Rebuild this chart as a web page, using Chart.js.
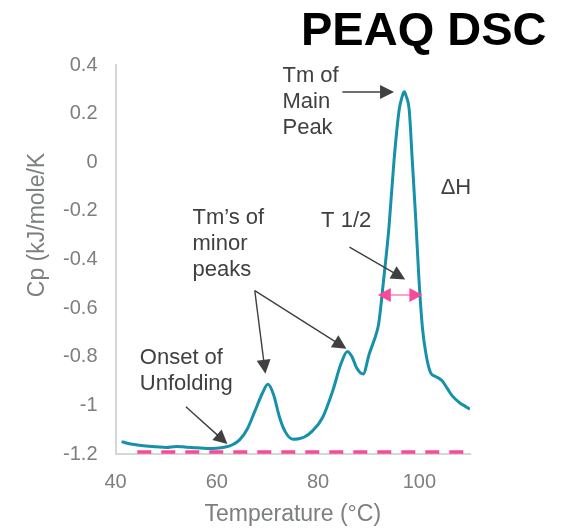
<!DOCTYPE html>
<html>
<head>
<meta charset="utf-8">
<script src="https://cdn.jsdelivr.net/npm/chart.js@4/dist/chart.umd.min.js"></script>
<style>
  html, body { margin: 0; padding: 0; background: #fff; }
  #wrap { width: 575px; height: 528px; }
</style>
</head>
<body>
<div id="wrap"><canvas id="dsc" width="575" height="528"></canvas></div>
<script>
// thermogramme DSC
const temperature = [41.2, 42.5, 44, 46, 48, 50, 52, 54, 56, 58, 60, 61.5, 63, 64.5, 66, 67.5, 69, 70.1, 71.2, 72.4,
  73.5, 75, 76.2, 77.3, 78.9, 80.9, 82.9, 84.5, 85.8, 86.7, 87.6, 88.9, 90.1, 91.7, 92.0, 93.0, 94.0, 95.0, 96.0, 96.6,
  97.0, 97.4, 98.0, 98.6, 99.3, 99.9, 100.6, 101.3, 102.2, 103.3, 104.5, 105.5, 106.5, 108, 109, 110];
const cp = [-1.149, -1.157, -1.162, -1.167, -1.170, -1.173, -1.169, -1.172, -1.174, -1.177, -1.176, -1.172, -1.163, -1.142, -1.098, -1.025, -0.950, -0.913, -0.955, -1.050,
  -1.108, -1.139, -1.137, -1.130, -1.105, -1.050, -0.940, -0.830, -0.778, -0.800, -0.845, -0.871, -0.789, -0.690, -0.660, -0.473, -0.267, 0.008, 0.214, 0.270,
  0.290, 0.272, 0.214, 0.008, -0.239, -0.473, -0.679, -0.788, -0.865, -0.882, -0.899, -0.930, -0.961, -0.990, -1.003, -1.016];

// ligne de base (tirets roses)
const baselineT = [44.3, 109.3];
const baselineCp = [-1.192, -1.192];

// largeur a mi-hauteur (fleche double rose)
const halfWidthT = [91.8, 100.6];
const halfWidthCp = -0.546;

const xTicks = [40, 60, 80, 100];
const yTicks = [0.4, 0.2, 0, -0.2, -0.4, -0.6, -0.8, -1, -1.2];

// textes d'annotation, ancrés en coordonnées de données
const notes = [
  { lines: ['Tm of', 'Main', 'Peak'], x: 72.97, y: 0.331 },
  { lines: ['\u0394H'], x: 104.2, y: -0.132 },
  { lines: ['T 1/2'], x: 80.6, y: -0.268 },
  { lines: ['Tm\u2019s of', 'minor', 'peaks'], x: 55.2, y: -0.256 },
  { lines: ['Onset of', 'Unfolding'], x: 44.8, y: -0.829 }
];
// fleches noires : [de T, de Cp, vers T, vers Cp]
const arrows = [
  [84.8, 0.289, 95.0, 0.289],
  [86.2, -0.349, 97.2, -0.482],
  [67.5, -0.528, 85.6, -0.767],
  [67.5, -0.528, 69.6, -0.870],
  [53.9, -1.006, 62.1, -1.159]
];

const FONT = '"Liberation Sans", Arial, sans-serif';
const GREY = '#7c807c';

function arrowHead(ctx, x1, y1, x2, y2, len, half) {
  let a = Math.atan2(y2 - y1, x2 - x1);
  ctx.beginPath();
  ctx.moveTo(x2, y2);
  ctx.lineTo(x2 - len * Math.cos(a) + half * Math.sin(a), y2 - len * Math.sin(a) - half * Math.cos(a));
  ctx.lineTo(x2 - len * Math.cos(a) - half * Math.sin(a), y2 - len * Math.sin(a) + half * Math.cos(a));
  ctx.closePath();
  ctx.fill();
}

const decor = {
  id: 'decor',
  afterDraw(chart) {
    let ctx = chart.ctx;
    let xs = chart.scales.x, ys = chart.scales.y;
    let area = chart.chartArea;
    ctx.save();

    // titre
    ctx.font = 'bold 47px ' + FONT;
    ctx.fillStyle = '#000';
    ctx.textAlign = 'left';
    ctx.textBaseline = 'alphabetic';
    ctx.fillText('PEAQ DSC', 301, 45);

    // titres des axes
    ctx.fillStyle = GREY;
    ctx.font = '23px ' + FONT;
    ctx.textAlign = 'center';
    ctx.textBaseline = 'middle';
    ctx.fillText('Temperature (\u00B0C)', (area.left + area.right) / 2, area.bottom + 61);
    ctx.save();
    ctx.translate(area.left - 77.5, area.top + 160);
    ctx.rotate(-Math.PI / 2);
    ctx.fillText('Cp (kJ/mole/K', 0, 0);
    ctx.restore();

    // annotations
    ctx.fillStyle = '#404040';
    ctx.font = '22px ' + FONT;
    ctx.textAlign = 'left';
    ctx.textBaseline = 'alphabetic';
    notes.forEach(n => {
      let px = xs.getPixelForValue(n.x), py = ys.getPixelForValue(n.y);
      n.lines.forEach((t, i) => ctx.fillText(t, px, py + i * 26));
    });

    ctx.strokeStyle = '#404040';
    ctx.lineWidth = 1.4;
    arrows.forEach(a => {
      let x1 = xs.getPixelForValue(a[0]), y1 = ys.getPixelForValue(a[1]);
      let x2 = xs.getPixelForValue(a[2]), y2 = ys.getPixelForValue(a[3]);
      let ang = Math.atan2(y2 - y1, x2 - x1);
      ctx.beginPath();
      ctx.moveTo(x1, y1);
      ctx.lineTo(x2 - 10 * Math.cos(ang), y2 - 10 * Math.sin(ang));
      ctx.stroke();
      arrowHead(ctx, x1, y1, x2, y2, 14, 7);
    });

    // fleche double T 1/2
    let hx1 = xs.getPixelForValue(halfWidthT[0]), hx2 = xs.getPixelForValue(halfWidthT[1]);
    let hy = ys.getPixelForValue(halfWidthCp);
    ctx.strokeStyle = '#f9a3cb';
    ctx.lineWidth = 2;
    ctx.beginPath();
    ctx.moveTo(hx1 + 8, hy);
    ctx.lineTo(hx2 - 8, hy);
    ctx.stroke();
    ctx.fillStyle = '#f84a9b';
    arrowHead(ctx, hx2, hy, hx1, hy, 13, 7);
    arrowHead(ctx, hx1, hy, hx2, hy, 13, 7);

    ctx.restore();
  }
};

new Chart(document.getElementById('dsc'), {
  type: 'line',
  data: {
    datasets: [
      {
        data: temperature.map((t, i) => ({ x: t, y: cp[i] })),
        borderColor: '#1791aa',
        borderWidth: 3,
        pointRadius: 0,
        cubicInterpolationMode: 'monotone',
        fill: false
      },
      {
        data: baselineT.map((t, i) => ({ x: t, y: baselineCp[i] })),
        borderColor: '#f84a9b',
        borderWidth: 3.5,
        borderDash: [14, 10],
        pointRadius: 0,
        fill: false
      }
    ]
  },
  options: {
    responsive: false,
    animation: false,
    layout: { padding: { top: 65, right: 105, bottom: 0, left: 0 } },
    plugins: { legend: { display: false }, tooltip: { enabled: false } },
    scales: {
      x: {
        type: 'linear',
        min: 40,
        max: 110,
        afterFit: s => { s.height = 74; },
        afterBuildTicks: s => { s.ticks = xTicks.map(v => ({ value: v })); },
        grid: { display: false, drawTicks: false },
        border: { display: true, color: '#d6d6d6', width: 2 },
        ticks: { color: GREY, font: { family: FONT, size: 20 }, padding: 16 }
      },
      y: {
        min: -1.2,
        max: 0.4,
        afterFit: s => { s.width = 115.5; },
        afterBuildTicks: s => { s.ticks = yTicks.map(v => ({ value: v })); },
        grid: { display: false, drawTicks: false },
        border: { display: true, color: '#d6d6d6', width: 2 },
        ticks: {
          color: GREY,
          font: { family: FONT, size: 20 },
          padding: 18,
          callback: v => String(Number(v.toFixed(1)))
        }
      }
    }
  },
  plugins: [decor]
});
</script>
</body>
</html>
